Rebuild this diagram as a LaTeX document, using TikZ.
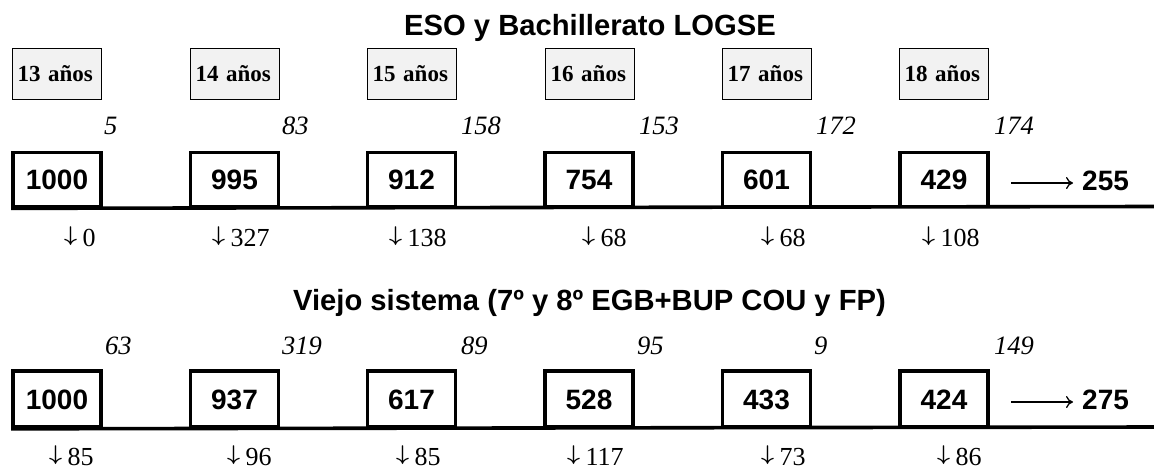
\documentclass[tikz,border=0pt]{standalone}
\usepackage{fontspec}
\setmainfont{Liberation Serif}
\newfontfamily\arial{Liberation Sans}
\usetikzlibrary{arrows.meta}
\definecolor{agefill}{HTML}{F2F2F2}
\newcommand{\dnarr}{\raisebox{4.15pt}{\resizebox*{13pt}{19pt}{\boldmath$\downarrow$}}\kern5.5pt}
\begin{document}
\begin{tikzpicture}[x=1pt,y=-1pt,
  titletext/.style={font=\arial\bfseries\fontsize{29.2}{31}\selectfont, inner sep=0pt, anchor=base},
  agebox/.style={draw, line width=1.1pt, fill=agefill, text width=79pt, align=left,
    inner xsep=5pt, inner ysep=0pt, minimum height=51pt, anchor=north west,
    font=\bfseries\fontsize{23}{25}\selectfont},
  popbox/.style={draw, line width=3.6pt, minimum width=88pt, inner sep=0pt,
    text height=20pt, text depth=0pt,
    font=\arial\bfseries\fontsize{28}{30}\selectfont},
  ital/.style={font=\itshape\fontsize{26.5}{28}\selectfont, inner sep=0pt, anchor=base west},
  downlab/.style={font=\fontsize{26}{28}\selectfont, inner sep=0pt, anchor=base west},
  endnum/.style={font=\arial\bfseries\fontsize{28}{30}\selectfont, inner sep=0pt, anchor=base west},
  baseline line/.style={line width=3.6pt},
  outarrow/.style={line width=1.3pt, -{To[length=7pt,width=12pt]}, shorten >=9pt}]
\useasboundingbox (0,0) rectangle (1154,469);

% ---------- Row 1 ----------
\node[titletext] (t1) at (590,35) {ESO y Bachillerato LOGSE};

\node[agebox] (g1) at (12,48) {13 años};
\node[agebox] (g2) at (190,48) {14 años};
\node[agebox] (g3) at (367,48) {15 años};
\node[agebox] (g4) at (545,48) {16 años};
\node[agebox] (g5) at (722,48) {17 años};
\node[agebox] (g6) at (899,48) {18 años};

\node[ital] (a1) at (104,134) {5};
\node[ital] (a2) at (282,134) {83};
\node[ital] (a3) at (461,134) {158};
\node[ital] (a4) at (639,134) {153};
\node[ital] (a5) at (816,134) {172};
\node[ital] (a6) at (994,134) {174};

\begin{scope}[popbox/.append style={minimum height=54pt}]
\node[popbox] (p1) at (57,179.5) {1000};
\node[popbox] (p2) at (234.5,179.5) {995};
\node[popbox] (p3) at (411.5,179.5) {912};
\node[popbox] (p4) at (589,179.5) {754};
\node[popbox] (p5) at (766.5,179.5) {601};
\node[popbox] (p6) at (944,179.5) {429};
\end{scope}
\coordinate (r1end) at (1154,206.5);
\draw[baseline line] (p1.south west) -- (r1end);

\node[endnum] (e1) at (1082,190) {255};
\coordinate (s1) at (1011,183);
\draw[outarrow] (s1) -- (s1 -| e1.west);

\node[downlab] (d1) at (64,246) {\dnarr 0};
\node[downlab] (d2) at (212,246) {\dnarr 327};
\node[downlab] (d3) at (389,246) {\dnarr 138};
\node[downlab] (d4) at (582,246) {\dnarr 68};
\node[downlab] (d5) at (761,246) {\dnarr 68};
\node[downlab] (d6) at (922,246) {\dnarr 108};

% ---------- Row 2 ----------
\node[titletext] (t2) at (589.5,310) {Viejo sistema (7º y 8º EGB+BUP COU y FP)};

\node[ital] (b1) at (105,354) {63};
\node[ital] (b2) at (282,354) {319};
\node[ital] (b3) at (461,354) {89};
\node[ital] (b4) at (637,354) {95};
\node[ital] (b5) at (814,354) {9};
\node[ital] (b6) at (994,354) {149};

\begin{scope}[popbox/.append style={minimum height=56pt}]
\node[popbox] (q1) at (57,399) {1000};
\node[popbox] (q2) at (234.5,399) {937};
\node[popbox] (q3) at (411.5,399) {617};
\node[popbox] (q4) at (589,399) {528};
\node[popbox] (q5) at (766.5,399) {433};
\node[popbox] (q6) at (944,399) {424};
\end{scope}
\coordinate (r2end) at (1154,427);
\draw[baseline line] (q1.south west) -- (r2end);

\node[endnum] (e2) at (1082,409) {275};
\coordinate (s2) at (1011,402);
\draw[outarrow] (s2) -- (s2 -| e2.west);

\node[downlab] (f1) at (49,465) {\dnarr 85};
\node[downlab] (f2) at (227,465) {\dnarr 96};
\node[downlab] (f3) at (396,465) {\dnarr 85};
\node[downlab] (f4) at (567,465) {\dnarr 117};
\node[downlab] (f5) at (761,465) {\dnarr 73};
\node[downlab] (f6) at (937,465) {\dnarr 86};
\end{tikzpicture}
\end{document}
